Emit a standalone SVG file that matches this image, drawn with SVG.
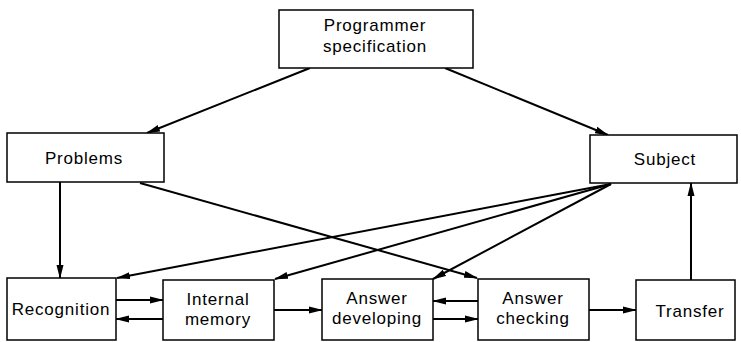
<svg xmlns="http://www.w3.org/2000/svg" width="741" height="342" viewBox="0 0 741 342">
<defs>
<marker id="ah" markerWidth="14" markerHeight="8" refX="13" refY="4" orient="auto" markerUnits="userSpaceOnUse">
<path d="M0,0.5 L14,4 L0,7.5 Z" fill="#000"/>
</marker>
<style>
.box{fill:#fff;stroke:#000;stroke-width:1.5}
.t{font-family:"Liberation Sans",Arial,sans-serif;font-size:17px;fill:#000;text-anchor:middle;letter-spacing:0.8px}
.c{stroke:#000;stroke-width:2;fill:none;marker-end:url(#ah)}
</style>
</defs>
<rect width="741" height="342" fill="#fff"/>
<g id="connectors">
<line class="c" x1="310" y1="68" x2="147" y2="133"/>
<line class="c" x1="445" y1="68" x2="608" y2="135"/>
<line class="c" x1="60" y1="182" x2="60" y2="278"/>
<line class="c" x1="140" y1="183" x2="477" y2="278"/>
<line class="c" x1="611" y1="184" x2="117" y2="278"/>
<line class="c" x1="611" y1="184" x2="275" y2="279"/>
<line class="c" x1="611" y1="184" x2="433" y2="279"/>
<line class="c" x1="691" y1="280" x2="691" y2="183"/>
<line class="c" x1="116" y1="300" x2="163" y2="300"/>
<line class="c" x1="163" y1="319" x2="116" y2="319"/>
<line class="c" x1="274" y1="310" x2="322" y2="310"/>
<line class="c" x1="478" y1="301" x2="433" y2="301"/>
<line class="c" x1="433" y1="319" x2="478" y2="319"/>
<line class="c" x1="589" y1="310" x2="636" y2="310"/>
</g>
<g id="programmer">
<rect class="box" x="279" y="10" width="194" height="58"/>
<text class="t" x="375" y="31">Programmer</text>
<text class="t" x="375" y="52">specification</text>
</g>
<g id="problems">
<rect class="box" x="7" y="133" width="157" height="49"/>
<text class="t" x="84" y="164">Problems</text>
</g>
<g id="subject">
<rect class="box" x="590" y="135" width="147" height="48"/>
<text class="t" x="665" y="165">Subject</text>
</g>
<g id="recognition">
<rect class="box" x="7" y="278" width="109" height="62"/>
<text class="t" x="61" y="315">Recognition</text>
</g>
<g id="internal-memory">
<rect class="box" x="163" y="280" width="111" height="60"/>
<text class="t" x="218" y="305">Internal</text>
<text class="t" x="218" y="325">memory</text>
</g>
<g id="answer-developing">
<rect class="box" x="322" y="279" width="111" height="61"/>
<text class="t" x="377" y="304">Answer</text>
<text class="t" x="377" y="324">developing</text>
</g>
<g id="answer-checking">
<rect class="box" x="478" y="279" width="111" height="61"/>
<text class="t" x="533" y="304">Answer</text>
<text class="t" x="533" y="324">checking</text>
</g>
<g id="transfer">
<rect class="box" x="636" y="280" width="99" height="60"/>
<text class="t" x="690" y="317">Transfer</text>
</g>
</svg>
